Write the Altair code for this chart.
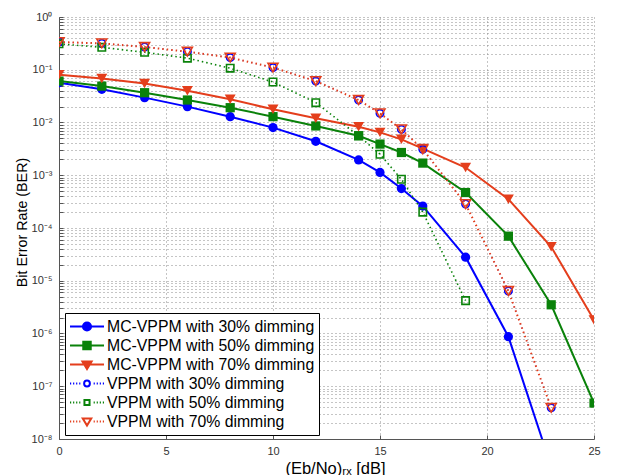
import altair as alt
import pandas as pd

# ---- data ----
x_mc = [0, 2, 4, 6, 8, 10, 12, 14, 15, 16, 17, 19, 21, 23, 25]
mc30 = [0.057, 0.0426, 0.0296, 0.020, 0.0129, 0.0080, 0.0044, 0.00195, 0.00113, 0.00056, 0.00026, 2.8e-5, 8.7e-7, 3.0e-9]
mc50 = [0.061, 0.049, 0.0367, 0.0267, 0.0191, 0.0129, 0.0086, 0.0056, 0.0039, 0.0027, 0.0017, 4.7e-4, 7.0e-5, 3.5e-6, 4.8e-8]
mc70 = [0.080, 0.068, 0.055, 0.040, 0.0275, 0.0178, 0.012, 0.0083, 0.0065, 0.0048, 0.0032, 0.0014, 3.5e-4, 4.4e-5, 1.8e-6]
vppm30 = [0.335, 0.316, 0.27, 0.22, 0.17, 0.11, 0.061, 0.0267, 0.0149, 0.0074, 0.0031, 2.85e-4, 6.4e-6, 3.9e-8]
vppm50 = [0.31, 0.266, 0.214, 0.166, 0.107, 0.0586, 0.0238, 0.0056, 0.0025, 8.4e-4, 2.0e-4, 4.2e-6]
vppm70 = [0.335, 0.316, 0.27, 0.22, 0.17, 0.11, 0.061, 0.0267, 0.0149, 0.0074, 0.0031, 2.85e-4, 6.4e-6, 3.9e-8]

series_names = [
    "MC-VPPM with 30% dimming",
    "MC-VPPM with 50% dimming",
    "MC-VPPM with 70% dimming",
    "VPPM with 30% dimming",
    "VPPM with 50% dimming",
    "VPPM with 70% dimming",
]
series_values = [mc30, mc50, mc70, vppm30, vppm50, vppm70]

x_ticks = [0, 5, 10, 15, 20, 25]
y_exponents = [-8, -7, -6, -5, -4, -3, -2, -1, 0]
y_tick_labels = ["10⁻⁸", "10⁻⁷", "10⁻⁶", "10⁻⁵", "10⁻⁴", "10⁻³", "10⁻²", "10⁻¹", "10⁰"]
x_title = "(Eb/No)ᵣₓ [dB]"
y_title = "Bit Error Rate (BER)"

# ---- styling ----
BLUE, GREEN, RED = "#0000FF", "#0A820A", "#E43E1C"
colors = [BLUE, GREEN, RED, BLUE, GREEN, RED]
shapes = ["circle", "square", "triangle-down", "circle", "square", "triangle-down"]
sizes = [85, 85, 120, 55, 55, 100]
filled = [True, True, True, False, False, False]
dashed = [False, False, False, True, True, True]
line_widths = [2, 2, 2, 1.0, 1.6, 2.0]
dash_patterns = [None, None, None, [0.8, 3.7], [1.5, 3], [1.5, 3]]
dash_offsets = [0, 0, 0, -0.35, 0, 0]
FONT = "Liberation Sans"

# grid / tick positions on the log axis (1..9 x 10^k)
y_grid = []
for e in y_exponents[:-1]:
    for m in range(1, 10):
        y_grid.append(m * 10.0 ** e)
y_grid.append(1.0)

L = "(log(datum.value)/LN10)"
label_arr = "[" + ",".join("'" + s + "'" for s in y_tick_labels) + "]"
label_expr = f"abs({L} - round({L})) < 0.001 ? {label_arr}[round({L}) + 8] : ''"

xscale = alt.Scale(domain=[0, 25], nice=False, zero=False)
yscale = alt.Scale(type="log", domain=[1e-8, 1], nice=False)

main_x_axis = alt.Axis(values=x_ticks, grid=True, gridDash=[1, 3], gridColor="#8a8a8a",
                       gridWidth=1, tickSize=0, labelPadding=6, labelFont=FONT,
                       labelFontSize=11, labelColor="#333333", domainColor="#555555",
                       title=x_title, titleFont=FONT, titleFontSize=16.5,
                       titleFontWeight="normal", titleColor="black", titlePadding=4,
                       titleX=276, labelFlush=False)
main_y_axis = alt.Axis(values=y_grid, grid=True, gridDash=[1, 3], gridColor="#8a8a8a",
                       gridWidth=1, tickSize=0, labelPadding=7, labelFont=FONT,
                       labelFontSize=11, labelColor="#333333", domainColor="#555555",
                       labelExpr=label_expr, title=y_title, titleFont=FONT,
                       titleFontSize=14.3, titleFontWeight="normal", titleColor="black",
                       titleX=-30, titleY=205, titleBaseline="bottom",
                       labelOverlap=False, labelFlush=False)
tick_x_axis = alt.Axis(orient="bottom", offset=-4, values=x_ticks, tickSize=4,
                       labels=False, domain=False, grid=False, title=None,
                       tickColor="#555555")
tick_y_axis = alt.Axis(orient="left", offset=-4, values=y_grid, tickSize=4,
                       labels=False, domain=False, grid=False, title=None,
                       tickColor="#555555")

layers = []
for i, (name, vals) in enumerate(zip(series_names, series_values)):
    df = pd.DataFrame({"x": x_mc[:len(vals)], "ber": vals, "series": name})
    first = i == 0
    enc = dict(
        x=alt.X("x:Q", scale=xscale, axis=main_x_axis if first else None),
        y=alt.Y("ber:Q", scale=yscale, axis=main_y_axis if first else None),
    )
    line_kw = dict(color=colors[i], strokeWidth=line_widths[i], clip=True)
    if dashed[i]:
        line_kw["strokeDash"] = dash_patterns[i]
        if dash_offsets[i]:
            line_kw["strokeDashOffset"] = dash_offsets[i]
    layers.append(alt.Chart(df).mark_line(**line_kw).encode(**enc))
    enc2 = dict(
        x=alt.X("x:Q", scale=xscale, axis=None),
        y=alt.Y("ber:Q", scale=yscale, axis=None),
    )
    pt_kw = dict(shape=shapes[i], size=sizes[i], opacity=1, clip=True,
                 filled=filled[i], strokeWidth=1.6)
    if filled[i]:
        pt_kw["color"] = colors[i]
    else:
        pt_kw["stroke"] = colors[i]
        pt_kw["fill"] = "transparent"
    layers.append(alt.Chart(df).mark_point(**pt_kw).encode(**enc2))

# ---- legend symbols (line + marker paths in unit coordinates) ----
def dots():
    parts = []
    xs = [-1.0, -0.82, -0.64, -0.46]
    for a in xs:
        parts.append(f"M{a:.2f},0h0.07")
        parts.append(f"M{-a - 0.07:.2f},0h0.07")
    return "".join(parts)

def circ(r):
    return f"M{-r},0A{r},{r},0,1,0,{r},0A{r},{r},0,1,0,{-r},0Z"

def sq(h):
    return f"M{-h},{-h}L{h},{-h}L{h},{h}L{-h},{h}Z"

def tri(w, t, b):
    return f"M{-w},{t}L{w},{t}L0,{b}Z"

solid = "M-1,0L1,0"
legend_paths = [
    solid + circ(0.24),
    solid + sq(0.22),
    solid + tri(0.27, -0.18, 0.27),
    dots() + circ(0.17),
    dots() + sq(0.15),
    dots() + tri(0.25, -0.18, 0.24),
]
legend_fills = [BLUE, GREEN, RED, "white", "white", "white"]

leg = alt.Legend(orient="none", legendX=6, legendY=296, title=None, padding=4,
                 strokeColor="black", fillColor="white", symbolSize=1156,
                 symbolStrokeWidth=2, labelFont=FONT, labelFontSize=15.8,
                 labelColor="black", labelOffset=2, clipHeight=19, rowPadding=0,
                 labelLimit=400, cornerRadius=0)

legend_layer = alt.Chart(alt.Data(values=[])).mark_point(opacity=1, filled=False).encode(
    x=alt.X("x:Q", scale=xscale, axis=tick_x_axis),
    y=alt.Y("ber:Q", scale=yscale, axis=tick_y_axis),
    shape=alt.Shape("label:N", scale=alt.Scale(domain=series_names, range=legend_paths), legend=leg),
    stroke=alt.Stroke("label:N", scale=alt.Scale(domain=series_names, range=colors), legend=leg),
    fill=alt.Fill("label:N", scale=alt.Scale(domain=series_names, range=legend_fills), legend=leg),
)
layers.append(legend_layer)

chart = (
    alt.layer(*layers)
    .resolve_axis(x="independent", y="independent")
    .properties(width=535, height=422,
                padding={"left": 59, "top": 17, "right": 29, "bottom": 36},
                autosize=alt.AutoSizeParams(type="none"), background="white")
    .configure_view(stroke=None)
)

chart.save("out.html", embed_options={"renderer": "svg", "actions": False})
